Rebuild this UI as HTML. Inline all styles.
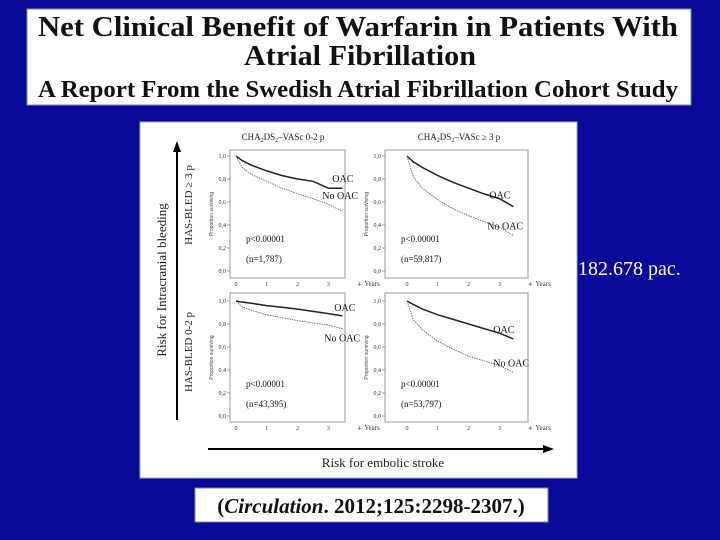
<!DOCTYPE html>
<html><head><meta charset="utf-8"><style>
html,body{margin:0;padding:0;background:#0a0a9a;}
svg{display:block;font-family:"Liberation Serif",serif;}
</style></head><body>
<svg id="s" width="720" height="540" viewBox="0 0 720 540">
<rect width="720" height="540" fill="#0a0a9a"/>
<g>
<rect x="27" y="9" width="664" height="96" fill="#fff" stroke="#888" stroke-width="1"/>
<text x="38" y="36" font-size="28" font-weight="bold" textLength="640" lengthAdjust="spacingAndGlyphs" fill="#111">Net Clinical Benefit of Warfarin in Patients With</text>
<text x="360" y="65" font-size="28" font-weight="bold" text-anchor="middle" textLength="232" lengthAdjust="spacingAndGlyphs" fill="#111">Atrial Fibrillation</text>
<text x="38" y="97" font-size="24" font-weight="bold" textLength="640" lengthAdjust="spacingAndGlyphs" fill="#111">A Report From the Swedish Atrial Fibrillation Cohort Study</text>
</g>
<rect x="140" y="122" width="437" height="356" fill="#fff" stroke="#aaa"/>
<text x="578" y="275" font-size="20" fill="#fff">182.678 pac.</text>
<g>
<rect x="195" y="488" width="353" height="34" fill="#fff" stroke="#888"/>
<text x="371" y="513" font-size="21" font-weight="bold" text-anchor="middle" fill="#111">(<tspan font-style="italic">Circulation</tspan>. 2012;125:2298-2307.)</text>
</g>
<g font-size="9" fill="#222">
<line x1="177" y1="420" x2="177" y2="150" stroke="#000" stroke-width="2"/>
<polygon points="177,141 173,152 181,152" fill="#000"/>
<text transform="translate(166,280) rotate(-90)" text-anchor="middle" font-size="13">Risk for Intracranial bleeding</text>
<text transform="translate(192,205) rotate(-90)" text-anchor="middle" font-size="11">HAS-BLED ≥ 3 p</text>
<text transform="translate(192,352) rotate(-90)" text-anchor="middle" font-size="11">HAS-BLED 0-2 p</text>
<line x1="208" y1="449" x2="545" y2="449" stroke="#000" stroke-width="2"/>
<polygon points="554,449 543,445 543,453" fill="#000"/>
<text x="383" y="467" text-anchor="middle" font-size="13">Risk for embolic stroke</text>
<text x="283" y="140" text-anchor="middle" font-size="9">CHA<tspan font-size="6" dy="2">2</tspan><tspan dy="-2">DS</tspan><tspan font-size="6" dy="2">2</tspan><tspan dy="-2">–VASc 0-2 p</tspan></text>
<text x="459" y="140" text-anchor="middle" font-size="9">CHA<tspan font-size="6" dy="2">2</tspan><tspan dy="-2">DS</tspan><tspan font-size="6" dy="2">2</tspan><tspan dy="-2">–VASc ≥ 3 p</tspan></text>
</g>
<g id="charts"></g>
</svg>
<script>
const years=[0,0.2,0.5,1,1.5,2,2.5,3,3.45];
const tlOac=[1.0,0.96,0.92,0.87,0.83,0.80,0.78,0.72,0.72];
const tlNo=[1.0,0.90,0.84,0.78,0.72,0.67,0.63,0.58,0.52];
const trOac=[1.0,0.95,0.90,0.83,0.77,0.72,0.67,0.63,0.56];
const trNo=[1.0,0.82,0.72,0.62,0.54,0.48,0.43,0.38,0.31];
const blOac=[1.0,0.99,0.98,0.96,0.945,0.93,0.91,0.89,0.87];
const blNo=[1.0,0.95,0.92,0.88,0.855,0.83,0.81,0.79,0.76];
const brOac=[1.0,0.97,0.93,0.88,0.84,0.80,0.76,0.72,0.67];
const brNo=[1.0,0.84,0.75,0.65,0.58,0.52,0.48,0.44,0.38];
const yTicks=["0,0","0,2","0,4","0,6","0,8","1,0"];
const xTicks=["0","1","2","3","4"];
const pTexts=["p<0.00001","p<0.00001","p<0.00001","p<0.00001"];
const nTexts=["(n=1,787)","(n=59,817)","(n=43,395)","(n=53,797)"];
const ns="http://www.w3.org/2000/svg";
const root=document.getElementById('charts');
function mk(t,a,p){const e=document.createElementNS(ns,t);for(const k in a)e.setAttribute(k,a[k]);(p||root).appendChild(e);return e;}
const panels=[
 {x0:236,y0:271,bx:230,bx2:345,by:150,by2:278,oac:tlOac,no:tlNo,name:'top-left',ox:-10,oy:-6,nx:-20,ny:-12},
 {x0:407,y0:271,bx:385,bx2:528,by:150,by2:278,oac:trOac,no:trNo,name:'top-right',ox:-24,oy:-8,nx:-26,ny:-6},
 {x0:236,y0:416,bx:230,bx2:345,by:293,by2:422,oac:blOac,no:blNo,name:'bottom-left',ox:-8,oy:-5,nx:-18,ny:13},
 {x0:407,y0:416,bx:385,bx2:528,by:293,by2:422,oac:brOac,no:brNo,name:'bottom-right',ox:-20,oy:-6,nx:-20,ny:-6}];
panels.forEach((p,i)=>{
 const g=mk('g',{});
 
 
 const xs=v=>p.x0+v*30.8, ys=v=>p.y0-v*115;
 const r=mk('rect',{x:p.bx,y:p.by,width:p.bx2-p.bx,height:p.by2-p.by,fill:'none',stroke:'#999','stroke-width':1},g);
 
 
 yTicks.forEach((t,j)=>{const v=j*0.2;
  const tx=mk('text',{x:p.bx-4,y:ys(v)+2,'font-size':6,'text-anchor':'end',fill:'#333'},g);tx.textContent=t;
  
  
  mk('line',{x1:p.bx-3,x2:p.bx,y1:ys(v),y2:ys(v),stroke:'#666','stroke-width':0.6},g);});
 xTicks.forEach((t,j)=>{
  const tx=mk('text',{x:xs(j),y:p.by2+8,'font-size':6,'text-anchor':'middle',fill:'#333'},g);tx.textContent=t;
  
  });
 const yl=mk('text',{x:xs(4)+5,y:p.by2+8,'font-size':7,fill:'#333'},g);yl.textContent='Years';
 
 
 const al=mk('text',{transform:`translate(${p.bx-17},${(p.by+p.by2)/2}) rotate(-90)`,'font-size':5,'text-anchor':'middle',fill:'#444','font-family':'Liberation Sans, sans-serif'},g);al.textContent='Proportion surviving';
 
 
 const pts=a=>a.map((v,k)=>xs(years[k]).toFixed(1)+','+ys(v).toFixed(1)).join(' ');
 const l1=mk('polyline',{points:pts(p.oac),fill:'none',stroke:'#222','stroke-width':1.5},g);
 
 
 const l2=mk('polyline',{points:pts(p.no),fill:'none',stroke:'#555','stroke-width':0.8,'stroke-dasharray':'1.5,1'},g);
 
 
 const last=p.oac.length-1;
 const o=mk('text',{x:xs(years[last])+p.ox,y:ys(p.oac[last])+p.oy,'font-size':10,fill:'#111'},g);o.textContent='OAC';
 
 
 const n=mk('text',{x:xs(years[last])+p.nx,y:ys(p.no[last])+p.ny,'font-size':10,fill:'#111'},g);n.textContent='No OAC';
 
 
 const pt=mk('text',{x:p.bx+16,y:p.y0-29,'font-size':9,fill:'#111'},g);pt.textContent=pTexts[i];
 
 
 const nt=mk('text',{x:p.bx+16,y:p.y0-9,'font-size':9,fill:'#111'},g);nt.textContent=nTexts[i];
 
 
});
</script>
</body></html>
